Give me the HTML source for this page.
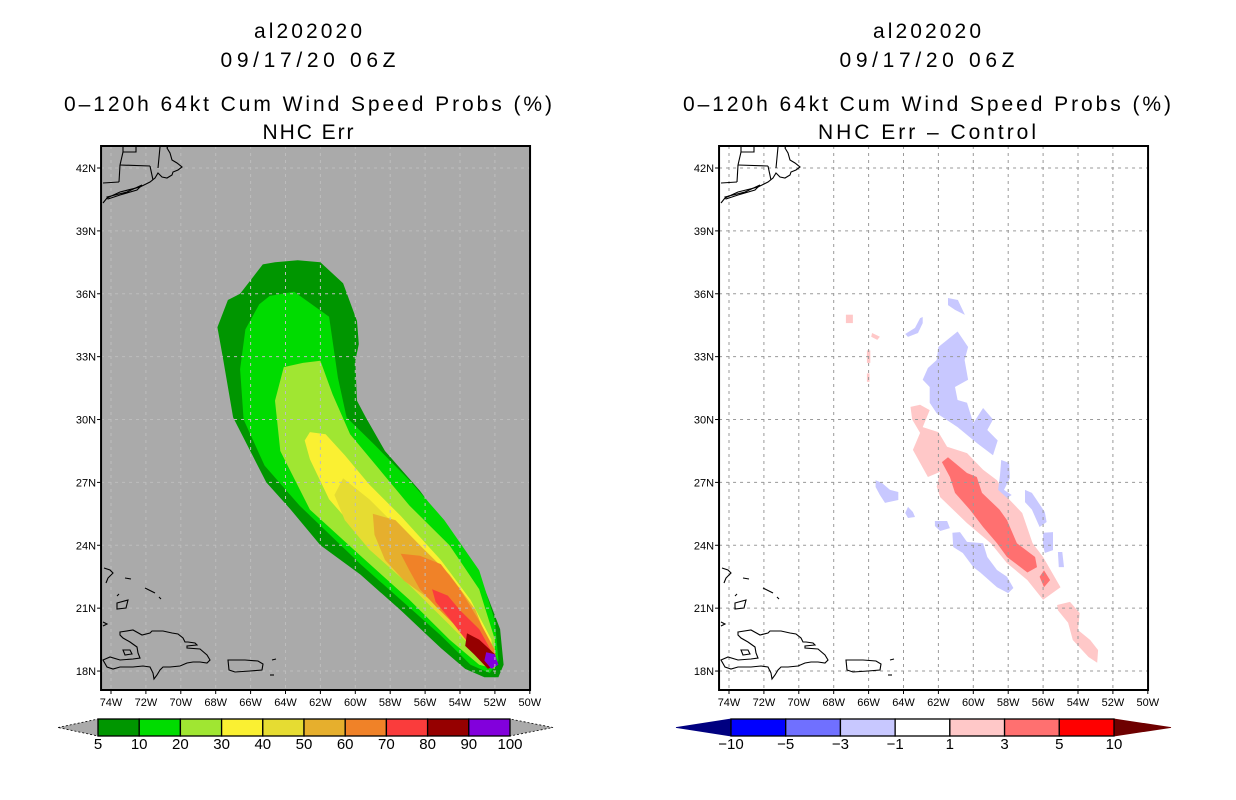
<!DOCTYPE html>
<html><head><meta charset="utf-8"><style>
html,body{margin:0;padding:0;background:#fff;}
svg{display:block;font-family:"Liberation Sans",sans-serif;}
</style></head><body>
<svg id="root" width="1236" height="800" viewBox="0 0 1236 800" xmlns="http://www.w3.org/2000/svg">
<defs>
<clipPath id="clipL"><rect x="101" y="146" width="429" height="544"/></clipPath>
<clipPath id="clipR"><rect x="720" y="146" width="428" height="544"/></clipPath>
</defs>
<g id="titles" font-size="21" text-anchor="middle" fill="#000">
<text x="308" y="38" textLength="108">al202020</text>
<text x="308" y="67" textLength="175">09/17/20 06Z</text>
<text x="308" y="111" textLength="488">0–120h 64kt Cum Wind Speed Probs (%)</text>
<text x="308" y="139" textLength="91">NHC Err</text>
<text x="927" y="38" textLength="108">al202020</text>
<text x="927" y="67" textLength="175">09/17/20 06Z</text>
<text x="927" y="111" textLength="488">0–120h 64kt Cum Wind Speed Probs (%)</text>
<text x="927" y="139" textLength="218">NHC Err – Control</text>
</g>
<g id="left"></g>
<g id="right"></g>
<g id="cbars"></g>
</svg>
<script>
// ---- data ----
var lonTicks = [74,72,70,68,66,64,62,60,58,56,54,52,50];
var latTicks = [42,39,36,33,30,27,24,21,18];
var probLevels = [5,10,20,30,40,50,60,70,80,90,100];
var probColors = ['#009600','#00dc00','#a0e632','#faf032','#e6dc32','#e6af2d','#f08228','#fa3c3c','#960000','#8200dc'];
var diffLevels = [-10,-5,-3,-1,1,3,5,10];
var diffColors = ['#0000ff','#7070ff','#c8c8ff','#ffffff','#ffc8c8','#ff7070','#ff0000'];
// probability contours [lonW, lat]
var prob5 = [[63.3,37.6],[62.0,37.5],[60.7,36.5],[59.9,34.7],[59.8,33.6],[60.0,32.8],[59.9,30.9],[59.4,30.1],[58.3,28.5],[56.3,26.6],[54.6,24.7],[52.9,22.6],[51.7,20.0],[51.5,18.3],[51.8,17.7],[52.6,17.7],[53.7,18.1],[55.1,19.1],[57.4,20.9],[59.7,22.6],[62.0,24.0],[63.7,25.7],[65.1,27.0],[67.0,30.1],[67.6,33.0],[67.9,34.4],[67.3,35.7],[66.6,36.0],[65.3,37.4],[64.6,37.5]];
var prob10 = [[63.5,36.1],[61.5,34.9],[61.0,32.0],[60.5,30.1],[58.9,28.8],[56.9,27.1],[54.9,25.2],[52.9,22.8],[52.0,20.4],[51.8,18.5],[52.3,17.9],[53.4,18.3],[55.1,19.7],[57.4,21.4],[59.7,23.1],[63.2,25.9],[65.2,27.8],[66.4,30.0],[66.6,32.4],[66.3,34.3],[65.5,35.5],[64.9,35.9]];
var prob20 = [[63.0,32.7],[64.1,32.5],[64.6,30.9],[64.3,28.5],[62.6,25.7],[59.7,23.5],[56.9,21.4],[54.6,19.5],[52.9,18.3],[52.0,18.1],[52.0,19.5],[52.9,21.9],[54.6,24.0],[56.9,25.9],[58.6,27.6],[60.3,29.3],[61.3,31.2],[62.0,32.8]];
var prob30 = [[62.6,29.4],[62.9,29.0],[62.6,28.1],[61.5,26.2],[59.2,24.0],[56.3,21.9],[54.0,20.0],[52.6,18.5],[52.1,18.2],[52.2,19.5],[53.4,21.4],[55.1,23.3],[57.4,25.4],[59.2,26.9],[60.6,28.3],[61.7,29.3]];
var prob40 = [[60.7,27.2],[59.2,26.2],[57.4,24.7],[55.1,22.8],[53.4,20.9],[52.3,19.0],[52.2,18.4],[52.9,18.8],[54.6,20.2],[56.9,22.1],[59.2,23.8],[60.6,25.2],[61.2,26.4]];
var prob50 = [[59.0,25.5],[57.7,25.2],[56.3,24.0],[54.6,22.6],[53.1,20.9],[52.3,19.2],[52.2,18.4],[53.0,19.0],[54.3,20.2],[55.7,21.4],[57.2,22.3],[58.3,23.3],[58.9,24.5]];
var prob60 = [[57.4,23.6],[56.3,23.5],[55.1,23.1],[54.0,21.9],[52.9,20.4],[52.0,19.0],[51.9,18.4],[52.9,19.0],[54.3,20.2],[55.4,21.1],[56.3,21.9],[56.9,22.8]];
var prob70 = [[55.6,21.9],[54.7,21.6],[54.0,20.9],[52.9,20.0],[51.9,18.5],[52.6,18.4],[53.4,19.2],[54.6,20.5],[55.4,21.3]];
var prob80 = [[53.6,19.8],[52.9,19.5],[52.0,18.8],[51.9,18.3],[52.4,18.1],[53.2,18.8],[53.7,19.2]];
var prob90 = [[52.5,18.9],[52.0,18.8],[51.8,18.3],[52.2,18.1],[52.6,18.5]];
var probContours = [prob5,prob10,prob20,prob30,prob40,prob50,prob60,prob70,prob80,prob90];
// difference patches: [lonW, lat]
var diffPink1 = [[63.6,30.6],[63.05,30.7],[62.5,30.45],[62.9,29.64],[62.0,29.4],[61.5,28.7],[60.36,28.4],[59.44,27.6],[58.64,27.1],[58.07,26.3],[57.2,25.54],[56.6,24.1],[56.0,23.44],[55.0,22.0],[56.0,21.4],[56.9,22.34],[58.07,23.15],[59.0,24.1],[60.36,25.06],[61.9,26.3],[62.1,26.8],[61.9,27.5],[62.6,27.26],[63.46,28.55],[63.05,29.36],[63.5,30.0]];
var diffPink2 = [[55.2,21.15],[54.46,21.3],[53.9,20.77],[54.0,19.96],[53.3,19.48],[52.85,19.0],[52.9,18.4],[53.4,18.67],[54.3,19.48],[54.57,20.3],[55.15,20.9]];
var diffPink3 = [[65.8,34.13],[65.35,33.95],[65.5,33.8],[65.85,33.95]];
var diffPink4 = [[66.1,33.3],[65.9,33.3],[65.9,32.7],[66.1,32.7]];
var diffPink5 = [[66.1,32.2],[65.95,32.2],[65.95,31.8],[66.1,31.8]];
var diffPink6 = [[67.3,35.0],[66.9,35.0],[66.9,34.6],[67.3,34.6]];
var diffRed1 = [[61.8,27.97],[61.45,28.2],[60.36,27.45],[59.8,27.26],[59.5,26.5],[58.5,25.7],[58.07,25.2],[57.5,24.1],[56.46,23.44],[56.35,22.96],[56.9,22.7],[57.3,22.96],[58.07,23.44],[58.64,24.1],[59.44,24.87],[60.2,25.7],[61.05,26.5],[61.34,27.26]];
var diffRed2 = [[56.2,22.5],[55.95,22.8],[55.6,22.34],[55.95,22.0]];
var diffBlue1 = [[60.9,34.2],[60.3,33.46],[60.5,32.84],[60.3,31.9],[61.05,31.55],[60.9,30.93],[60.36,30.8],[60.0,29.83],[59.44,30.55],[58.87,30.0],[59.2,29.5],[58.6,29.0],[58.87,28.3],[59.8,28.88],[60.9,29.64],[62.1,30.3],[62.5,30.8],[62.5,31.55],[62.9,31.9],[62.6,32.46],[62.1,32.84],[62.0,33.46]];
var diffBlue2 = [[61.2,24.6],[60.76,24.63],[60.36,24.16],[59.44,24.1],[59.2,23.44],[58.64,22.82],[58.07,22.5],[57.7,21.96],[58.0,21.72],[58.64,22.0],[59.6,22.7],[60.0,22.96],[60.6,23.63],[61.15,23.92]];
var diffBlue3 = [[58.4,28.07],[57.95,27.93],[57.9,27.21],[58.24,26.64],[57.8,26.4],[58.07,26.26],[58.58,26.64],[58.47,27.35]];
var diffBlue4 = [[57.04,26.64],[56.64,26.5],[55.9,25.59],[55.8,25.11],[56.2,24.87],[56.64,25.7],[57.04,26.06]];
var diffBlue5 = [[56.0,24.6],[55.43,24.63],[55.43,23.77],[55.9,23.63],[56.0,24.0]];
var diffBlue6 = [[55.15,23.68],[54.9,23.68],[54.8,22.96],[55.1,22.96]];
var diffBlue7 = [[65.6,27.1],[65.23,26.97],[64.77,26.64],[64.3,26.54],[64.3,26.16],[65.06,26.02],[65.35,26.4],[65.6,26.78]];
var diffBlue8 = [[63.74,25.83],[63.46,25.59],[63.34,25.35],[63.74,25.3],[63.9,25.54]];
var diffBlue9 = [[62.2,25.16],[61.5,25.16],[61.34,24.82],[61.9,24.68],[62.2,24.92]];
var diffBlue10 = [[61.45,35.8],[60.88,35.7],[60.48,34.99],[61.05,35.23],[61.45,35.46]];
var diffBlue11 = [[63.05,34.84],[62.9,34.89],[62.9,34.6],[63.17,34.13],[63.74,33.94],[63.9,34.08],[63.34,34.37]];
var diffPatches = [
  {lvl:4, pts:diffPink1},{lvl:4, pts:diffPink2},{lvl:4, pts:diffPink3},{lvl:4, pts:diffPink4},{lvl:4, pts:diffPink5},{lvl:4, pts:diffPink6},
  {lvl:5, pts:diffRed1},{lvl:5, pts:diffRed2},
  {lvl:2, pts:diffBlue1},{lvl:2, pts:diffBlue2},{lvl:2, pts:diffBlue3},{lvl:2, pts:diffBlue4},{lvl:2, pts:diffBlue5},{lvl:2, pts:diffBlue6},
  {lvl:2, pts:diffBlue7},{lvl:2, pts:diffBlue8},{lvl:2, pts:diffBlue9},{lvl:2, pts:diffBlue10},{lvl:2, pts:diffBlue11}
];

// ---- axes ----
var NS='http://www.w3.org/2000/svg';
var DX=17.45, DY=20.96, X74L=111, X74R=729, Y42=168;
function xL(lonW){return X74L+(74-lonW)*DX;}
function xR(lonW){return X74R+(74-lonW)*DX;}
function yP(lat){return Y42+(42-lat)*DY;}
function mk(tag,attrs,parent){var e=document.createElementNS(NS,tag);for(var k in attrs)e.setAttribute(k,attrs[k]);parent.appendChild(e);return e;}
function ptsStr(pts,fx){return pts.map(function(p){return fx(p[0]).toFixed(1)+','+yP(p[1]).toFixed(1);}).join(' ');}

var coastPolys = [
 [[120,632],[133,630],[142,635],[150,633],[152,631],[163,631],[172,633],[178,634],[183,638],[185,642],[188,642],[195,643],[197,645],[187,646],[187,648],[200,649],[207,655],[210,660],[207,663],[200,662],[193,662],[187,663],[180,666],[170,667],[163,667],[160,670],[157,675],[154,679],[153,673],[150,667],[143,666],[133,667],[120,667],[113,669],[107,667],[103,660],[110,657],[120,660],[133,659],[140,658],[138,653],[137,647],[130,642],[123,638],[120,635]],
 [[123,650],[130,650],[132,654],[125,655]],
 [[228,660],[245,660],[258,661],[263,664],[262,670],[250,671],[235,672],[229,670]],
 [[117,603],[128,600],[126,608],[117,609]],
 [[107,197],[127,192],[142,185],[137,190],[120,195],[108,199]]
];
var coastLines = [
 [[107,198],[120,192],[140,187],[150,182],[155,178],[158,173],[162,177],[167,178],[172,175],[173,172],[178,170],[182,167],[177,163],[172,160],[170,153],[167,148],[168,146]],
 [[104,568],[110,570],[113,573],[108,578],[106,583]],
 [[107,198],[103,203]],[[120,165],[150,166]],[[120,165],[119,182]],[[150,166],[153,180]],
 [[123,146],[123,152],[136,152],[136,146]],[[123,152],[120,165]],[[103,183],[119,182]],[[160,147],[158,168]],
 [[125,578],[131,579]],[[145,588],[155,593]],[[159,597],[161,599]],[[103,622],[107,624],[103,626]],[[272,660],[276,659]],[[270,675],[274,675]],[[117,596],[119,594]]
];

function drawMap(g, fx, clip, bg, isLeft, off){
  var c=mk('g',{'clip-path':'url(#'+clip+')'},g);
  var bgr=mk('rect',{x:fx(74.57),y:146,width:429,height:544,fill:bg},c);
  
  
  if(isLeft){
    probContours.forEach(function(pts,i){
      var p=mk('polygon',{points:ptsStr(pts,fx),fill:probColors[i]},c);
      
      
    });
  } else {
    diffPatches.forEach(function(d,i){
      var p=mk('polygon',{points:ptsStr(d.pts,fx),fill:diffColors[d.lvl]},c);
      
      
    });
  }
  var gc=isLeft?'#bdbdbd':'#9a9a9a';
  lonTicks.forEach(function(l){
    var ln=mk('line',{x1:fx(l),x2:fx(l),y1:146,y2:690,stroke:gc,'stroke-width':1,'stroke-dasharray':'3,4'},c);
    
    
  });
  latTicks.forEach(function(l){
    var ln=mk('line',{x1:fx(74.57),x2:fx(74.57)+429,y1:yP(l),y2:yP(l),stroke:gc,'stroke-width':1,'stroke-dasharray':'3,4'},c);
    
    
  });
  var cg=mk('g',{transform:'translate('+off+',0)',fill:'none',stroke:'#000','stroke-width':1.1},c);
  
  
  coastPolys.forEach(function(p){mk('polygon',{points:p.map(function(q){return q.join(',');}).join(' ')},cg);});
  coastLines.forEach(function(p){mk('polyline',{points:p.map(function(q){return q.join(',');}).join(' ')},cg);});
  var fr=mk('rect',{x:fx(74.57),y:146,width:429,height:544,fill:'none',stroke:'#000','stroke-width':2},g);
  
  
  lonTicks.forEach(function(l){
    mk('line',{x1:fx(l),x2:fx(l),y1:690,y2:694,stroke:'#000'},g);
    var t=mk('text',{x:fx(l),y:706,'font-size':11,'text-anchor':'middle'},g);
    t.textContent=l+'W';
    
    
  });
  latTicks.forEach(function(l){
    mk('line',{x1:fx(74.57)-4,x2:fx(74.57),y1:yP(l),y2:yP(l),stroke:'#000'},g);
    var t=mk('text',{x:fx(74.57)-5,y:yP(l)+4,'font-size':11,'text-anchor':'end'},g);
    t.textContent=l+'N';
    
    
  });
}
drawMap(document.getElementById('left'), xL, 'clipL', '#aaaaaa', true, 0);
drawMap(document.getElementById('right'), xR, 'clipR', '#ffffff', false, 618);

// ---- colorbars ----
var cb=document.getElementById('cbars');
function colorbar(x0,x1,tipL,tipR,levels,colors,lc,rc,dashedTips,name){
  var g=mk('g',{},cb);
  
  
  var y0=719,y1=736,ym=727.5;
  var w=(x1-x0)/colors.length;
  var tl=mk('polygon',{points:tipL+','+ym+' '+x0+','+y0+' '+x0+','+y1,fill:lc,stroke:dashedTips?'#000':lc,'stroke-dasharray':dashedTips?'2,2':'none','stroke-width':0.8},g);
  
  
  var tr=mk('polygon',{points:tipR+','+ym+' '+x1+','+y0+' '+x1+','+y1,fill:rc,stroke:dashedTips?'#000':rc,'stroke-dasharray':dashedTips?'2,2':'none','stroke-width':0.8},g);
  
  
  colors.forEach(function(c,i){
    var r=mk('rect',{x:x0+i*w,y:y0,width:w,height:y1-y0,fill:c,stroke:'#000','stroke-width':1.3},g);
    
    
  });
  levels.forEach(function(v,i){
    var t=mk('text',{x:x0+i*w,y:749,'font-size':15,'text-anchor':'middle'},g);
    t.textContent=String(v).replace('-','−');
    
    
  });
}
colorbar(98,510,58,553,probLevels,probColors,'#aaaaaa','#aaaaaa',true,'left-colorbar');
colorbar(731,1114,676,1171,diffLevels,diffColors,'#000080','#6e0000',false,'right-colorbar');
</script>
</body></html>
